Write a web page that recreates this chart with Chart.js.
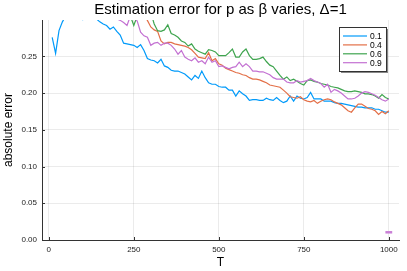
<!DOCTYPE html>
<html>
<head>
<meta charset="utf-8">
<script src="https://cdn.jsdelivr.net/npm/chart.js@4.4.0/dist/chart.umd.min.js"></script>
<style>
  html, body { margin: 0; padding: 0; background: #fff; }
  canvas { display: block; }
</style>
</head>
<body>
<canvas id="chart" width="407" height="271"></canvas>
<script>
// --- données ---
const T = Array.from({length: 100}, (_, i) => (i + 1) * 10);

const err01 = [
  0.276, 0.254, 0.285, 0.297, 0.305, 0.31, 0.31, 0.305, 0.303, 0.300,
  0.305, 0.31, 0.305, 0.301, 0.297, 0.294, 0.292, 0.287, 0.290, 0.284,
  0.279, 0.268, 0.267, 0.266, 0.265, 0.262, 0.266, 0.258, 0.247, 0.245,
  0.244, 0.241, 0.246, 0.237, 0.235, 0.231, 0.230, 0.230, 0.228, 0.226,
  0.222, 0.218, 0.224, 0.220, 0.230, 0.221, 0.214, 0.212, 0.212, 0.209,
  0.208, 0.208, 0.204, 0.204, 0.196, 0.203, 0.199, 0.196, 0.190, 0.191,
  0.191, 0.190, 0.190, 0.193, 0.191, 0.190, 0.194, 0.190, 0.187, 0.189,
  0.196, 0.189, 0.196, 0.193, 0.192, 0.194, 0.201, 0.192, 0.192, 0.192,
  0.189, 0.189, 0.189, 0.187, 0.186, 0.186, 0.185, 0.184, 0.183, 0.182,
  0.181, 0.181, 0.180, 0.180, 0.180, 0.178, 0.178, 0.176, 0.174, 0.174
];
const err04 = [
  0.32, 0.32, 0.32, 0.32, 0.32, 0.32, 0.32, 0.32, 0.32, 0.32,
  0.32, 0.32, 0.32, 0.32, 0.32, 0.32, 0.32, 0.32, 0.32, 0.32,
  0.32, 0.32, 0.32, 0.32, 0.315, 0.31, 0.305, 0.305, 0.299, 0.290,
  0.286, 0.284, 0.271, 0.267, 0.269, 0.269, 0.267, 0.266, 0.265, 0.264,
  0.262, 0.259, 0.254, 0.249, 0.248, 0.247, 0.255, 0.244, 0.247, 0.240,
  0.238, 0.234, 0.232, 0.230, 0.228, 0.227, 0.225, 0.224, 0.221, 0.219,
  0.219, 0.218, 0.216, 0.214, 0.211, 0.210, 0.209, 0.208, 0.204, 0.200,
  0.195, 0.194, 0.193, 0.195, 0.191, 0.189, 0.188, 0.190, 0.186, 0.189,
  0.191, 0.192, 0.191, 0.188, 0.186, 0.184, 0.180, 0.176, 0.174, 0.180,
  0.185, 0.185, 0.182, 0.179, 0.178, 0.176, 0.171, 0.175, 0.172, 0.176
];
const err06 = [
  0.32, 0.32, 0.32, 0.32, 0.32, 0.32, 0.32, 0.32, 0.32, 0.32,
  0.32, 0.32, 0.32, 0.32, 0.32, 0.32, 0.32, 0.32, 0.32, 0.32,
  0.32, 0.32, 0.32, 0.305, 0.292, 0.305, 0.31, 0.31, 0.31, 0.31,
  0.294, 0.285, 0.284, 0.286, 0.293, 0.281, 0.279, 0.276, 0.271, 0.269,
  0.264, 0.267, 0.260, 0.257, 0.255, 0.253, 0.259, 0.258, 0.256, 0.251,
  0.251, 0.251, 0.255, 0.260, 0.249, 0.249, 0.256, 0.260, 0.251, 0.246,
  0.246, 0.247, 0.249, 0.243, 0.238, 0.236, 0.230, 0.224, 0.219, 0.222,
  0.217, 0.219, 0.216, 0.213, 0.211, 0.217, 0.218, 0.216, 0.215, 0.213,
  0.212, 0.211, 0.209, 0.208, 0.207, 0.205, 0.203, 0.202, 0.202, 0.203,
  0.202, 0.201, 0.199, 0.199, 0.198, 0.196, 0.193, 0.198, 0.194, 0.192
];
const err09 = [
  0.32, 0.32, 0.32, 0.32, 0.32, 0.32, 0.32, 0.32, 0.32, 0.32,
  0.32, 0.32, 0.32, 0.32, 0.32, 0.32, 0.32, 0.32, 0.305, 0.301,
  0.299, 0.296, 0.292, 0.305, 0.303, 0.298, 0.283, 0.278, 0.276, 0.265,
  0.268, 0.269, 0.265, 0.268, 0.268, 0.265, 0.260, 0.253, 0.258, 0.249,
  0.246, 0.244, 0.248, 0.242, 0.244, 0.240, 0.249, 0.242, 0.244, 0.236,
  0.237, 0.235, 0.233, 0.235, 0.236, 0.242, 0.236, 0.240, 0.236, 0.230,
  0.230, 0.229, 0.229, 0.227, 0.225, 0.221, 0.219, 0.219, 0.219, 0.215,
  0.214, 0.214, 0.217, 0.215, 0.216, 0.217, 0.220, 0.217, 0.215, 0.213,
  0.208, 0.212, 0.201, 0.205, 0.203, 0.200, 0.196, 0.192, 0.192, 0.193,
  0.196, 0.200, 0.202, 0.201, 0.199, 0.197, 0.194, 0.191, 0.189, 0.192
];

// petit trait près de T=1000
const markT = [990, 1010];
const markErr = [0.0105, 0.0105];

const seriesLabels = ['0.1', '0.4', '0.6', '0.9'];
const seriesColors = ['#009AFA', '#E36F47', '#3EA44E', '#C371D2'];
const seriesValues = [err01, err04, err06, err09];

const xTicks = [0, 250, 500, 750, 1000];
const yTicks = [0, 0.05, 0.10, 0.15, 0.20, 0.25];

const titleText = 'Estimation error for p as β varies, Δ=1';
const FONT = '"Liberation Sans", Arial, sans-serif';

// --- datasets ---
const datasets = seriesValues.map((vals, k) => ({
  label: seriesLabels[k],
  data: T.map((t, i) => ({x: t, y: vals[i]})),
  borderColor: seriesColors[k],
  borderWidth: 1.2,
  pointRadius: 0,
  tension: 0,
  order: 4 - k
}));
datasets.push({
  label: 'mark',
  data: markT.map((t, i) => ({x: t, y: markErr[i]})),
  borderColor: '#C97FD6',
  borderWidth: 2.5,
  pointRadius: 0,
  order: 0
});

// --- dessin titre, légende, ticks intérieurs ---
const decorPlugin = {
  id: 'decor',
  afterDraw(chart) {
    const ctx = chart.ctx;
    const a = chart.chartArea;
    const xs = chart.scales.x, ys = chart.scales.y;
    ctx.save();

    // ticks vers l'intérieur
    ctx.strokeStyle = '#333';
    ctx.lineWidth = 1;
    xTicks.forEach(v => {
      const px = Math.round(xs.getPixelForValue(v)) + 0.5;
      ctx.beginPath(); ctx.moveTo(px, a.bottom); ctx.lineTo(px, a.bottom - 3); ctx.stroke();
    });
    yTicks.forEach(v => {
      const py = Math.round(ys.getPixelForValue(v)) + 0.5;
      ctx.beginPath(); ctx.moveTo(a.left, py); ctx.lineTo(a.left + 3, py); ctx.stroke();
    });

    // titre
    ctx.fillStyle = '#000';
    ctx.font = '15px ' + FONT;
    ctx.textAlign = 'center';
    ctx.textBaseline = 'alphabetic';
    ctx.fillText(titleText, (a.left + a.right) / 2, 14);

    // titres des axes
    ctx.font = '12px ' + FONT;
    ctx.fillText('T', (a.left + a.right) / 2, 266);
    ctx.save();
    ctx.translate(12, (a.top + a.bottom) / 2);
    ctx.rotate(-Math.PI / 2);
    ctx.fillText('absolute error', 0, 0);
    ctx.restore();

    // légende
    const bx = 339.5, by = 27.5, bw = 47, bh = 44;
    ctx.fillStyle = '#888';
    ctx.fillRect(bx + 1.5, by + 1.5, bw, bh);
    ctx.fillStyle = '#fff';
    ctx.fillRect(bx, by, bw, bh);
    ctx.strokeStyle = '#333';
    ctx.lineWidth = 1;
    ctx.strokeRect(bx, by, bw, bh);
    ctx.font = '8.5px ' + FONT;
    ctx.textAlign = 'left';
    ctx.textBaseline = 'middle';
    seriesLabels.forEach((lab, k) => {
      const y = 36 + k * 8.9;
      ctx.strokeStyle = seriesColors[k];
      ctx.lineWidth = 1.2;
      ctx.beginPath(); ctx.moveTo(343, y); ctx.lineTo(367, y); ctx.stroke();
      ctx.fillStyle = '#000';
      ctx.fillText(lab, 370, y + 0.5);
    });

    ctx.restore();
  }
};

new Chart(document.getElementById('chart'), {
  type: 'line',
  data: { datasets: datasets },
  options: {
    responsive: false,
    animation: false,
    layout: { padding: { left: 0, right: 8, top: 20, bottom: 0 } },
    plugins: { legend: { display: false }, tooltip: { enabled: false }, title: { display: false } },
    scales: {
      x: {
        type: 'linear',
        min: -20,
        max: 1030,
        afterFit: s => { s.height = 31; },
        afterBuildTicks: s => { s.ticks = xTicks.map(v => ({value: v})); },
        grid: { color: 'rgba(0,0,0,0.08)', drawTicks: false },
        border: { color: '#333', width: 1 },
        ticks: { color: '#222', font: { size: 8, family: FONT }, padding: 5, maxRotation: 0,
                 callback: v => String(v) }
      },
      y: {
        type: 'linear',
        min: 0,
        max: 0.2995,
        afterFit: s => { s.width = 42; },
        afterBuildTicks: s => { s.ticks = yTicks.map(v => ({value: v})); },
        grid: { color: 'rgba(0,0,0,0.08)', drawTicks: false },
        border: { color: '#333', width: 1 },
        ticks: { color: '#222', font: { size: 8, family: FONT }, padding: 5,
                 callback: v => v.toFixed(2) }
      }
    }
  },
  plugins: [decorPlugin]
});
</script>
</body>
</html>
